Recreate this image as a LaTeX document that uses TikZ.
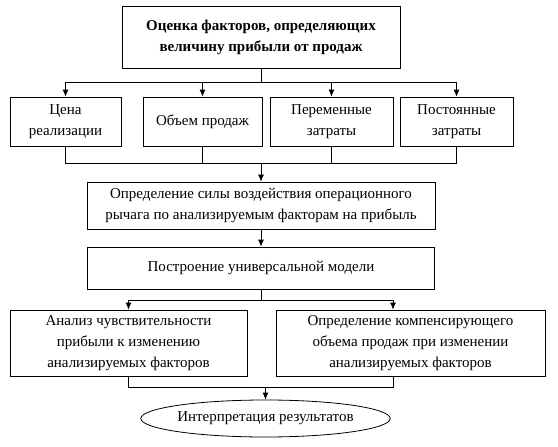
\documentclass[tikz,border=0pt]{standalone}
\usepackage{fontspec}
\setmainfont{Liberation Serif}
\usetikzlibrary{arrows.meta, positioning, shapes.geometric}
\tikzset{box/.style={rectangle,draw,align=center,inner sep=2pt,line width=0.8pt,font=\fontsize{15}{21}\selectfont},line/.style={-{Latex[length=7pt,width=6pt]},line width=0.8pt},wire/.style={line width=0.8pt}}

\begin{document}
\begin{tikzpicture}[x=1pt,y=-1pt]
\useasboundingbox (0,0) rectangle (558,447);
\node[box, minimum width=278pt, minimum height=62pt] (top) at (261,37) {\textbf{Оценка факторов, определяющих}\\\textbf{величину прибыли от продаж}};
\node[box, minimum width=111pt, minimum height=49pt] (cena) at (65.5,121.5) {Цена\\реализации};
\node[box, minimum width=119pt, minimum height=49pt] (obem) at (202.5,121.5) {Объем продаж};
\node[box, minimum width=123pt, minimum height=49pt] (perem) at (331.5,121.5) {Переменные\\затраты};
\node[box, minimum width=113pt, minimum height=49pt] (post) at (456.5,121.5) {Постоянные\\затраты};
\node[box, minimum width=348pt, minimum height=47pt] (sila) at (261,205.5) {Определение силы воздействия операционного\\рычага по анализируемым факторам на прибыль};
\node[box, minimum width=347pt, minimum height=42pt] (model) at (261,268) {Построение универсальной модели};
\node[box, minimum width=237pt, minimum height=66pt] (analiz) at (128.5,343) {Анализ чувствительности\\прибыли к изменению\\анализируемых факторов};
\node[box, minimum width=269pt, minimum height=66pt] (komp) at (410.5,343) {Определение компенсирующего\\объема продаж при изменении\\анализируемых факторов};
\node[box, ellipse, inner sep=0pt, minimum width=215pt, minimum height=37pt] (itog) at (265.5,418.5) {Интерпретация результатов};
% top -> factors
\coordinate (split1) at (261,82);
\draw[wire] (top.south) -- (split1);
\draw[wire] (cena.north |- split1) -- (post.north |- split1);
\foreach \n in {cena,obem,perem,post}
  \draw[line] (\n.north |- split1) -- (\n.north);
% factors -> sila
\coordinate (join1) at (261,163);
\draw[wire] (cena.south) -- (cena.south |- join1) -- (post.south |- join1) -- (post.south);
\draw[wire] (obem.south) -- (obem.south |- join1);
\draw[wire] (perem.south) -- (perem.south |- join1);
\draw[line] (join1) -- (sila.north);
\draw[line] (sila.south) -- (model.north);
% model -> analiz, komp
\coordinate (split2) at (261,300);
\coordinate (kompin) at (393,300);
\draw[wire] (model.south) -- (split2);
\draw[wire] (analiz.north |- split2) -- (kompin);
\draw[line] (analiz.north |- split2) -- (analiz.north);
\draw[line] (kompin) -- (kompin |- komp.north);
% -> itog
\coordinate (join2) at (265.5,387);
\draw[wire] (analiz.south) -- (analiz.south |- join2) -- (kompin |- join2) -- (kompin |- komp.south);
\draw[line] (join2) -- (itog.north);
\end{tikzpicture}
\end{document}
